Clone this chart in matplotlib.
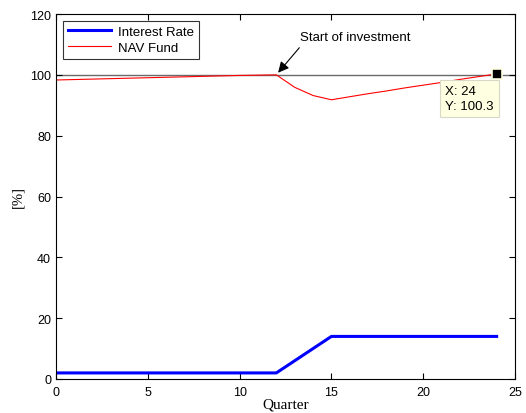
import numpy as np
import matplotlib.pyplot as plt

quarters = list(range(25))
interest_rate = [2, 2, 2, 2, 2, 2, 2, 2, 2, 2, 2, 2, 2, 6, 10, 14,
                 14, 14, 14, 14, 14, 14, 14, 14, 14]
nav_fund = [98.3, 98.45, 98.6, 98.75, 98.9, 99.05, 99.2, 99.35, 99.5,
            99.65, 99.8, 99.9, 100.0, 95.9, 93.2, 91.8, 92.8, 93.8,
            94.7, 95.7, 96.6, 97.5, 98.5, 99.4, 100.3]
tip_x, tip_y = 24, 100.3

fig = plt.figure(figsize=(5.26, 4.14), dpi=100)
ax = fig.add_axes([56/526, 34/414, 459/526, 365/414])

ax.axhline(100, color='#6a6a6a', lw=1.0, zorder=1)
ax.plot(quarters, interest_rate, color='blue', lw=2.2, label='Interest Rate')
ax.plot(quarters, nav_fund, color='red', lw=0.8, label='NAV Fund')

ax.set_xlim(0, 25)
ax.set_ylim(0, 120)
ax.set_xticks([0, 5, 10, 15, 20, 25])
ax.set_yticks([0, 20, 40, 60, 80, 100, 120])
ax.tick_params(direction='in', top=True, right=True, labelsize=9, length=4)
ax.tick_params(axis='x', pad=5)
for lab in ax.get_xticklabels() + ax.get_yticklabels():
    lab.set_family('Liberation Sans')

ax.set_xlabel('Quarter', family='Liberation Serif', fontsize=11, labelpad=0)
ax.set_ylabel('[%]', family='Liberation Serif', fontsize=10.5)

ax.annotate('Start of investment', xy=(12, 100), xytext=(13.3, 112.5),
            fontsize=9.5, family='Liberation Sans', va='center',
            arrowprops=dict(arrowstyle='-|>', color='black', lw=0.8,
                            mutation_scale=16, relpos=(0.03, 0.0)))

ax.plot([tip_x], [tip_y], marker='s', color='black', ms=7,
        markeredgecolor='#ffffe0', markeredgewidth=1.2, zorder=5)
ax.text(tip_x - 2.8, tip_y - 3.8, 'X: %d\nY: %.1f' % (tip_x, tip_y),
        fontsize=9.5, family='Liberation Sans', va='top', ha='left',
        linespacing=1.25,
        bbox=dict(boxstyle='square,pad=0.4', fc='#ffffe1', ec='#d8d8c8', lw=0.8))

leg = ax.legend(loc='upper left', frameon=True, fancybox=False,
                edgecolor='black', handlelength=3.3, borderaxespad=0.5,
                borderpad=0.4, labelspacing=0.25, handletextpad=0.5,
                prop={'family': 'Liberation Sans', 'size': 9.5})
leg.get_frame().set_linewidth(0.8)

fig.savefig('out.png', dpi=100)
